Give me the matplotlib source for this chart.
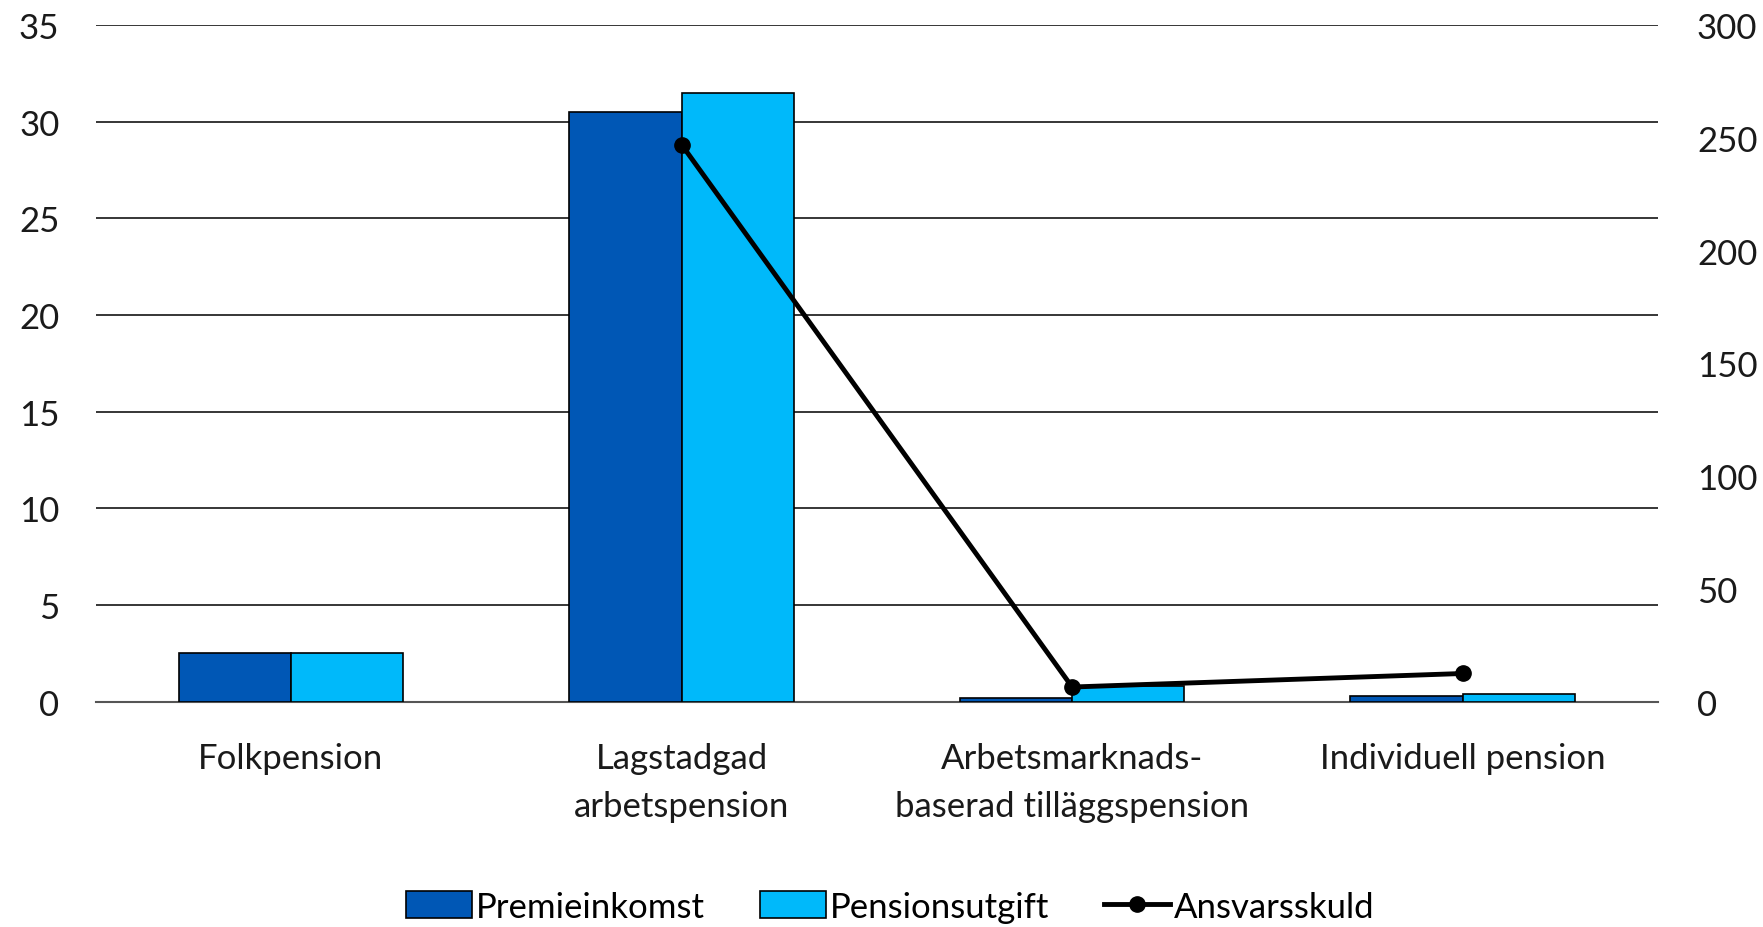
import numpy as np
import matplotlib.pyplot as plt

# data
kategorier = ['Folkpension', 'Lagstadgad\narbetspension',
              'Arbetsmarknads-\nbaserad tilläggspension', 'Individuell pension']
premieinkomst = [2.5, 30.5, 0.2, 0.3]
pensionsutgift = [2.5, 31.5, 0.8, 0.4]
ansvarsskuld = [np.nan, 247, 6.5, 12.5]

plt.rcParams['font.family'] = ['Lato', 'DejaVu Sans']

fig = plt.figure(figsize=(17.63, 9.28), dpi=100)
ax = fig.add_axes([0.0542, 0.2428, 0.8863, 0.7292])
ax2 = ax.twinx()

x = np.arange(len(kategorier))
w = 0.2875
ax.bar(x - w / 2, premieinkomst, w, color='#0057B5', edgecolor='black',
       linewidth=1.2, label='Premieinkomst', zorder=3)
ax.bar(x + w / 2, pensionsutgift, w, color='#00B9FA', edgecolor='black',
       linewidth=1.2, label='Pensionsutgift', zorder=3)
ax2.plot(x, ansvarsskuld, color='black', linewidth=3.5, marker='o',
         markersize=11, label='Ansvarsskuld', zorder=4)

ax.set_xlim(-0.5, 3.5)
ax.set_ylim(0, 35)
ax.set_yticks(range(0, 36, 5))
ax2.set_ylim(0, 300)
ax2.set_yticks(range(0, 301, 50))
ax.grid(axis='y', color='black', linewidth=1.1, zorder=0)

for a in (ax, ax2):
    for s in a.spines.values():
        s.set_visible(False)
    a.tick_params(length=0, labelsize=25, colors='#1a1a1a')
ax.spines['bottom'].set_visible(True)
ax.spines['bottom'].set_color('#555555')
ax.spines['bottom'].set_linewidth(1.5)

ax.set_xticks(x)
ax.set_xticklabels(kategorier, linespacing=1.6)
ax.tick_params(axis='x', pad=29)
ax.tick_params(axis='y', pad=26)
ax2.tick_params(axis='y', pad=28)

h1, l1 = ax.get_legend_handles_labels()
h2, l2 = ax2.get_legend_handles_labels()
fig.legend(h1 + h2, l1 + l2, loc='center', bbox_to_anchor=(0.505, 0.022),
           ncol=3, frameon=False, fontsize=25, handlelength=1.9,
           handleheight=0.8, handletextpad=0.1, columnspacing=1.6,
           labelcolor='black')

fig.savefig('out.png', dpi=100)
